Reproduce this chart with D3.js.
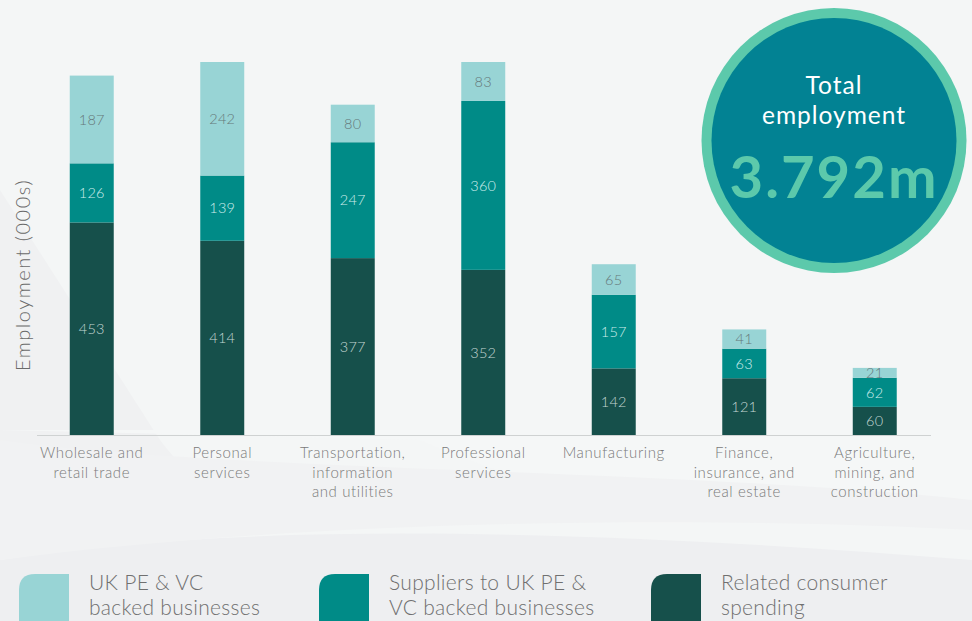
<!DOCTYPE html>
<html>
<head>
  <meta charset="utf-8">
  <style>
  body {
    margin: 0;
    background: #f4f6f6;
    font-family: "Lato", "Open Sans", sans-serif;
  }
  svg text {
    font-family: "Lato", "Open Sans", sans-serif;
  }
  .cat-label {
    font-size: 15px;
    fill: #7a7a7a;
    font-weight: 300;
    letter-spacing: 0.6px;
  }
  .val-label {
    font-size: 14.5px;
    font-weight: 300;
    letter-spacing: 0.3px;
  }
  .legend-text {
    font-size: 21px;
    fill: #707070;
    font-weight: 300;
    letter-spacing: 0.3px;
  }
  </style>
</head>
<body>
<div id="chart"></div>
<script src="https://d3js.org/d3.v7.min.js"></script>
<script>
  // categories (x), with line breaks as shown
  var categories = [
    ["Wholesale and", "retail trade"],
    ["Personal", "services"],
    ["Transportation,", "information", "and utilities"],
    ["Professional", "services"],
    ["Manufacturing"],
    ["Finance,", "insurance, and", "real estate"],
    ["Agriculture,", "mining, and", "construction"]
  ];

  // series, bottom to top
  var consumerSpending = [453, 414, 377, 352, 142, 121, 60];
  var suppliers = [126, 139, 247, 360, 157, 63, 62];
  var ukBacked = [187, 242, 80, 83, 65, 41, 21];

  var seriesNames = [
    ["UK PE & VC", "backed businesses"],
    ["Suppliers to UK PE &", "VC backed businesses"],
    ["Related consumer", "spending"]
  ];
  var totalLabel = ["Total", "employment"];
  var totalValue = "3.792m";

  var colors = {ukBacked: "#98d4d5", suppliers: "#008b87", consumer: "#16504b"};
  var labelColors = {ukBacked: "#66787a", suppliers: "#cdeceb", consumer: "#c3d6d3"};

  var W = 972, H = 621;

  var svg = d3.select("#chart").append("svg")
      .attr("width", W)
      .attr("height", H);

  // background swooshes
  svg.append("rect").attr("width", W).attr("height", H).attr("fill", "#f4f6f6");
  svg.append("path")
      .attr("d", "M0,560 C250,520 600,530 972,560 L972,621 L0,621 Z")
      .attr("fill", "#eeeff1");
  svg.append("path")
      .attr("d", "M0,190 L160,440 C220,520 300,530 0,540 Z")
      .attr("fill", "#f0f1f2");
  svg.append("path")
      .attr("d", "M0,430 L972,430 L972,500 C800,530 600,520 420,440 Z")
      .attr("fill", "#f5f7f7");
  svg.append("path")
      .attr("d", "M0,440 C200,470 700,470 972,500 L972,530 C700,515 300,520 0,560 Z")
      .attr("fill", "#f1f2f3");

  var x = d3.scaleBand()
    .domain(d3.range(categories.length))
    .range([26.5, 940])
    .paddingInner(0.663)
    .paddingOuter(0.3315);

  var y = d3.scaleLinear()
    .domain([0, 795])
    .range([435, 62]);

  var keys = ["consumer", "suppliers", "ukBacked"];
  var rows = categories.map(function(c, i) {
    return {i: i, consumer: consumerSpending[i], suppliers: suppliers[i], ukBacked: ukBacked[i]};
  });
  var stacked = d3.stack().keys(keys)(rows);

  var g = svg.append("g");

  var layers = g.selectAll("g.layer")
      .data(stacked)
    .enter().append("g")
      .attr("class", "layer")
      .attr("fill", function(d){ return colors[d.key]; });

  layers.selectAll("rect")
      .data(function(d){ return d; })
    .enter().append("rect")
      .attr("x", function(d){ return x(d.data.i); })
      .attr("y", function(d){ return y(d[1]); })
      .attr("width", x.bandwidth())
      .attr("height", function(d){ return y(d[0]) - y(d[1]); });

  layers.each(function(layer) {
    d3.select(this).selectAll("text")
        .data(layer)
      .enter().append("text")
        .attr("class", "val-label")
        .attr("x", function(d){ return x(d.data.i) + x.bandwidth() / 2; })
        .attr("y", function(d){ return (y(d[0]) + y(d[1])) / 2; })
        .attr("dy", "0.36em")
        .attr("text-anchor", "middle")
        .attr("fill", labelColors[layer.key])
        .text(function(d){ return d[1] - d[0]; });
  });

  // baseline
  g.append("line")
      .attr("x1", 37).attr("x2", 931)
      .attr("y1", y(0) + 0.5).attr("y2", y(0) + 0.5)
      .attr("stroke", "#cfd2d2")
      .attr("stroke-width", 1.2);

  // category labels
  var cat = g.selectAll("text.cat-label")
      .data(categories)
    .enter().append("text")
      .attr("class", "cat-label")
      .attr("text-anchor", "middle")
      .attr("x", function(d, i){ return x(i) + x.bandwidth() / 2; })
      .attr("y", 458);
  cat.selectAll("tspan")
      .data(function(d){ return d; })
    .enter().append("tspan")
      .attr("x", function(){ return this.parentNode.getAttribute("x"); })
      .attr("dy", function(d, i){ return i === 0 ? 0 : 19.5; })
      .text(function(d){ return d; });

  // y axis title
  svg.append("text")
      .attr("transform", "translate(30, 275) rotate(-90)")
      .attr("text-anchor", "middle")
      .attr("fill", "#6a6a6a")
      .style("font-size", "20px")
      .style("font-weight", 300)
      .style("letter-spacing", "1.5px")
      .text("Employment (000s)");

  // total bubble
  var bubble = svg.append("g").attr("transform", "translate(834, 140.5)");
  bubble.append("circle").attr("r", 132.5).attr("fill", "#5cc9ab");
  bubble.append("circle").attr("r", 122.5).attr("fill", "#028293");
  bubble.selectAll("text.tl")
      .data(totalLabel)
    .enter().append("text")
      .attr("class", "tl")
      .attr("text-anchor", "middle")
      .attr("y", function(d, i){ return -47 + i * 30; })
      .attr("fill", "#ffffff")
      .style("font-size", "24.5px")
      .style("letter-spacing", "1px")
      .text(function(d){ return d; });
  bubble.append("text")
      .attr("text-anchor", "middle")
      .attr("y", 57)
      .attr("fill", "#5cc9ab")
      .style("font-size", "58px")
      .style("font-weight", 700)
      .style("letter-spacing", "2px")
      .text(totalValue);

  // legend
  var legendX = [19, 319, 651];
  var legendKeys = ["ukBacked", "suppliers", "consumer"];
  var leg = svg.selectAll("g.legend")
      .data(seriesNames)
    .enter().append("g")
      .attr("class", "legend")
      .attr("transform", function(d, i){ return "translate(" + legendX[i] + ", 574)"; });

  // leaf shaped swatch: rounded top-left and bottom-right
  leg.append("path")
      .attr("d", "M16,0 L50,0 L50,50 Q50,66 34,66 L0,66 L0,16 Q0,0 16,0 Z")
      .attr("fill", function(d, i){ return colors[legendKeys[i]]; });

  leg.each(function(lines) {
    d3.select(this).selectAll("text")
        .data(lines)
      .enter().append("text")
        .attr("class", "legend-text")
        .attr("x", 70)
        .attr("y", function(d, i){ return 16 + i * 25; })
        .text(function(d){ return d; });
  });
</script>
</body>
</html>
